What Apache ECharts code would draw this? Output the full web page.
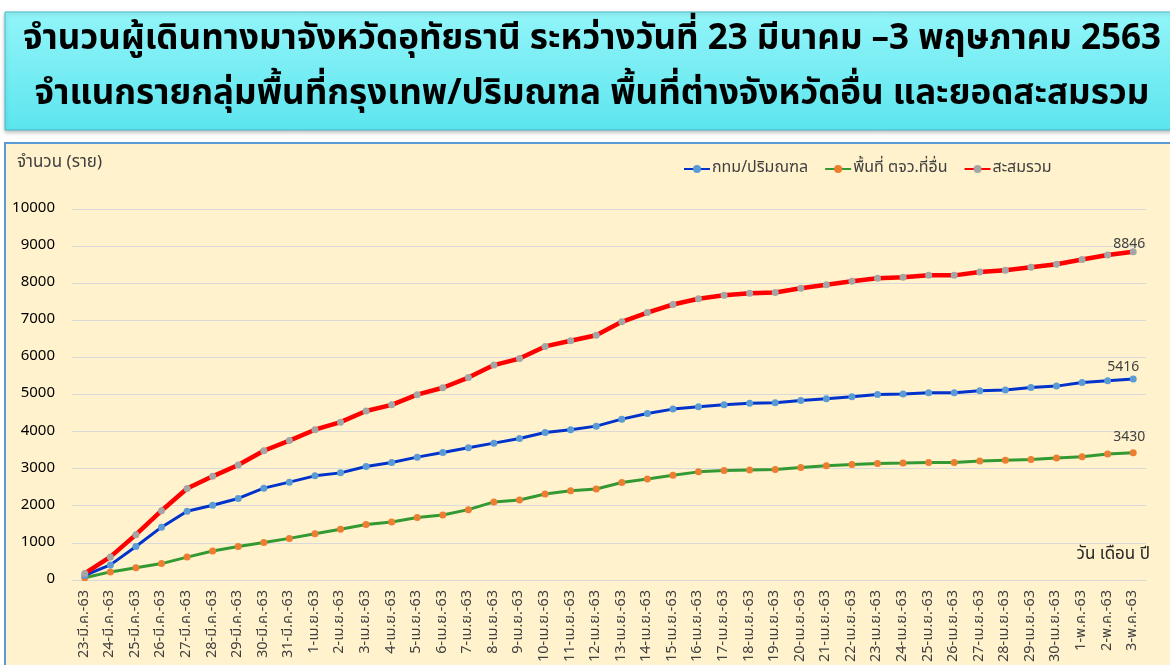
<!DOCTYPE html>
<html>
<head>
<meta charset="utf-8">
<script src="https://cdn.jsdelivr.net/npm/echarts@6/dist/echarts.min.js"></script>
<style>
    html, body { margin: 0; padding: 0; background: #fff; }
    #chart { width: 1170px; height: 665px; }
</style>
</head>
<body>
<div id="chart"></div>
<script>
const dates = [
    '23-มี.ค.-63', '24-มี.ค.-63', '25-มี.ค.-63', '26-มี.ค.-63', '27-มี.ค.-63', '28-มี.ค.-63',
    '29-มี.ค.-63', '30-มี.ค.-63', '31-มี.ค.-63',
    '1-เม.ย.-63', '2-เม.ย.-63', '3-เม.ย.-63', '4-เม.ย.-63', '5-เม.ย.-63', '6-เม.ย.-63',
    '7-เม.ย.-63', '8-เม.ย.-63', '9-เม.ย.-63', '10-เม.ย.-63', '11-เม.ย.-63', '12-เม.ย.-63',
    '13-เม.ย.-63', '14-เม.ย.-63', '15-เม.ย.-63', '16-เม.ย.-63', '17-เม.ย.-63', '18-เม.ย.-63',
    '19-เม.ย.-63', '20-เม.ย.-63', '21-เม.ย.-63', '22-เม.ย.-63', '23-เม.ย.-63', '24-เม.ย.-63',
    '25-เม.ย.-63', '26-เม.ย.-63', '27-เม.ย.-63', '28-เม.ย.-63', '29-เม.ย.-63', '30-เม.ย.-63',
    '1-พ.ค.-63', '2-พ.ค.-63', '3-พ.ค.-63'
];

// กทม/ปริมณฑล
const bkkValues = [
    120, 405, 901, 1422, 1853, 2015, 2196, 2474, 2636, 2806, 2886, 3059, 3167, 3310,
    3437, 3561, 3688, 3815, 3976, 4047, 4146, 4335, 4489, 4605, 4667, 4721, 4760, 4775,
    4839, 4883, 4937, 5001, 5010, 5045, 5045, 5099, 5118, 5190, 5225, 5325, 5368, 5416
];

// พื้นที่ ตจว.ที่อื่น
const otherValues = [
    60, 216, 330, 440, 615, 780, 903, 1008, 1120, 1245, 1368, 1494, 1560, 1685,
    1750, 1895, 2104, 2155, 2318, 2401, 2450, 2625, 2720, 2820, 2913, 2951, 2966, 2975,
    3030, 3075, 3115, 3140, 3150, 3167, 3167, 3205, 3228, 3245, 3285, 3320, 3395, 3430
];

// สะสมรวม
const totalValues = [
    175, 620, 1220, 1866, 2465, 2793, 3100, 3482, 3756, 4050, 4254, 4553, 4720, 4995,
    5180, 5455, 5792, 5968, 6295, 6448, 6598, 6960, 7208, 7425, 7580, 7672, 7726, 7750,
    7865, 7958, 8052, 8135, 8158, 8211, 8211, 8303, 8346, 8430, 8510, 8640, 8762, 8846
];

const yTicks = { min: 0, max: 10000, interval: 1000 };

const FONT = 'Tahoma, "Noto Sans Thai", "DejaVu Sans", sans-serif';

const chart = echarts.init(document.getElementById('chart'));

function endLabel(offset) {
    return {
        show: true,
        position: 'top',
        offset: offset,
        color: '#404040',
        fontSize: 14,
        fontFamily: FONT,
        formatter: (p) => (p.dataIndex === dates.length - 1 ? p.value : '')
    };
}

chart.setOption({
    animation: false,
    textStyle: { fontFamily: FONT },
    graphic: [
        {
            type: 'rect',
            shape: { x: 5, y: 12, width: 1170, height: 118 },
            style: {
                fill: new echarts.graphic.LinearGradient(0, 0, 0, 1, [
                    { offset: 0, color: '#92f5f9' },
                    { offset: 1, color: '#5ce5ee' }
                ]),
                stroke: '#47b9c9',
                lineWidth: 1,
                shadowColor: 'rgba(0,0,0,0.25)',
                shadowBlur: 4,
                shadowOffsetY: 2
            },
            z: 0
        },
        {
            type: 'text',
            x: 592, y: 42,
            style: {
                text: 'จำนวนผู้เดินทางมาจังหวัดอุทัยธานี ระหว่างวันที่ 23 มีนาคม –3 พฤษภาคม 2563',
                fill: '#000', font: 'bold 35px ' + FONT,
                align: 'center', verticalAlign: 'middle'
            },
            z: 1
        },
        {
            type: 'text',
            x: 592, y: 97,
            style: {
                text: 'จำแนกรายกลุ่มพื้นที่กรุงเทพ/ปริมณฑล พื้นที่ต่างจังหวัดอื่น และยอดสะสมรวม',
                fill: '#000', font: 'bold 35px ' + FONT,
                align: 'center', verticalAlign: 'middle'
            },
            z: 1
        },
        {
            type: 'rect',
            shape: { x: 5, y: 143, width: 1175, height: 540 },
            style: { fill: '#fff2cc', stroke: '#5b9bd5', lineWidth: 2 },
            z: -10
        },
        {
            type: 'text',
            x: 17, y: 164,
            style: {
                text: 'จำนวน (ราย)', fill: '#404040', font: '17px ' + FONT,
                verticalAlign: 'middle'
            }
        },
        {
            type: 'text',
            x: 1150, y: 556,
            style: {
                text: 'วัน เดือน ปี', fill: '#262626', font: '17px ' + FONT,
                align: 'right', verticalAlign: 'middle'
            }
        }
    ],
    legend: {
        top: 156,
        left: 678,
        itemWidth: 26,
        itemHeight: 10,
        itemGap: 16,
        textStyle: { color: '#404040', fontSize: 16, fontFamily: FONT, padding: [0, 0, 0, -3] },
        data: ['กทม/ปริมณฑล', 'พื้นที่ ตจว.ที่อื่น', 'สะสมรวม']
    },
    grid: { left: 72, right: 24, top: 209, bottom: 85 },
    xAxis: {
        type: 'category',
        data: dates,
        boundaryGap: true,
        axisLine: { lineStyle: { color: '#d9d9d9' } },
        axisTick: { show: false },
        axisLabel: {
            rotate: 90,
            interval: 0,
            margin: 10,
            color: '#404040',
            fontSize: 14.5,
            fontFamily: FONT
        }
    },
    yAxis: {
        type: 'value',
        min: yTicks.min,
        max: yTicks.max,
        interval: yTicks.interval,
        axisLine: { show: false },
        axisTick: { show: false },
        axisLabel: {
            color: '#000',
            fontSize: 15,
            margin: 17,
            fontFamily: FONT,
            formatter: (v) => String(v)
        },
        splitLine: { lineStyle: { color: '#d9d9d9', width: 1 } }
    },
    series: [
        {
            name: 'กทม/ปริมณฑล',
            type: 'line',
            data: bkkValues,
            symbol: 'circle',
            symbolSize: 7,
            lineStyle: { color: '#0033cc', width: 3 },
            itemStyle: { color: '#5b9bd5' },
            label: endLabel([-10, 5]),
            z: 3
        },
        {
            name: 'พื้นที่ ตจว.ที่อื่น',
            type: 'line',
            data: otherValues,
            symbol: 'circle',
            symbolSize: 7,
            lineStyle: { color: '#339933', width: 3 },
            itemStyle: { color: '#ed7d31' },
            label: endLabel([-4, 1]),
            z: 2
        },
        {
            name: 'สะสมรวม',
            type: 'line',
            data: totalValues,
            symbol: 'circle',
            symbolSize: 7,
            lineStyle: { color: '#ff0000', width: 4.5 },
            itemStyle: { color: '#a5a5a5' },
            label: endLabel([-4, 9]),
            z: 4
        }
    ]
});
</script>
</body>
</html>
